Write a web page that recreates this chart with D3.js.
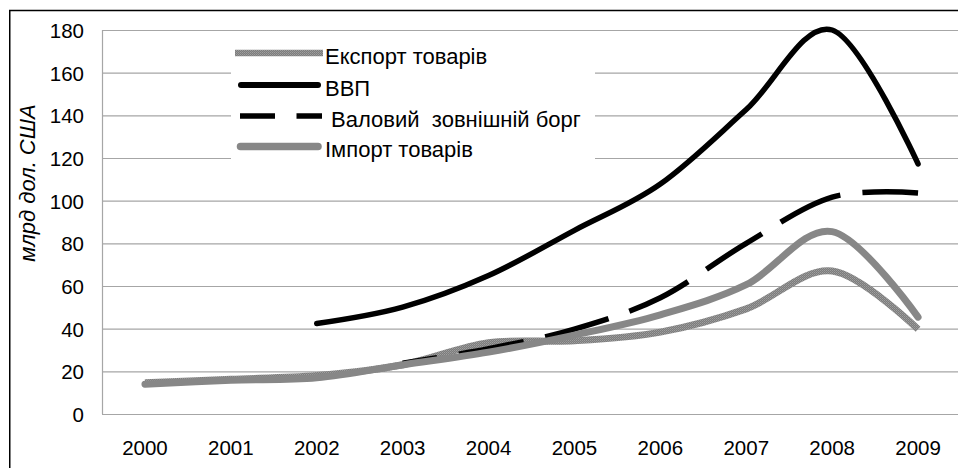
<!DOCTYPE html>
<html>
<head>
<meta charset="utf-8">
<script src="https://cdn.jsdelivr.net/npm/d3@7"></script>
<style>
  html, body { margin: 0; padding: 0; background: #fff; }
  svg { display: block; font-family: "Liberation Sans", Arial, sans-serif; }
  text { white-space: pre; }
</style>
</head>
<body>
<svg id="chart" width="958" height="468"></svg>
<script>
// ---- data ----
const years = ["2000","2001","2002","2003","2004","2005","2006","2007","2008","2009"];
const exportVals = [14.6, 16.3, 18.0, 23.1, 33.4, 34.3, 38.4, 49.3, 67.0, 39.7];
const gdpVals    = [null, null, 42.4, 50.1, 64.9, 86.1, 107.8, 142.7, 180.0, 117.2];
const debtVals   = [null, null, null, 23.8, 30.6, 39.8, 54.5, 80.0, 101.7, 103.6];
const importVals = [14.0, 15.8, 17.0, 23.0, 29.0, 37.0, 46.5, 60.6, 85.5, 45.4];
const yTicks = [0, 20, 40, 60, 80, 100, 120, 140, 160, 180];
const seriesNames = ["Експорт товарів", "ВВП", " Валовий  зовнішній борг", "Імпорт товарів"];
const yTitle = "млрд дол. США";

// ---- layout ----
const svg = d3.select("#chart");
const plot = { left: 102, right: 961, top: 30, bottom: 414 };

const x = d3.scaleBand().domain(years).range([plot.left, plot.right]).padding(0);
const y = d3.scaleLinear().domain([0, 180]).range([plot.bottom, plot.top]);
const cx = yr => x(yr) + x.bandwidth() / 2;

// pattern for export line
const defs = svg.append("defs");
const pat = defs.append("pattern").attr("id", "expPat")
  .attr("patternUnits", "userSpaceOnUse").attr("width", 2).attr("height", 2);
pat.append("rect").attr("width", 2).attr("height", 2).attr("fill", "#7c7c7c");
pat.append("rect").attr("width", 1).attr("height", 1).attr("fill", "#a0a0a0");
pat.append("rect").attr("x", 1).attr("y", 1).attr("width", 1).attr("height", 1).attr("fill", "#929292");

// outer border (only top and left visible)
svg.append("path")
  .attr("d", `M9.75,470 V10.5 H960`)
  .attr("fill", "none").attr("stroke", "#000").attr("stroke-width", 1.5);

// gridlines
const gridAxis = d3.axisLeft(y).tickValues(yTicks).tickSize(-(plot.right - plot.left)).tickFormat("");
svg.append("g").attr("transform", `translate(${plot.left},0)`).call(gridAxis)
  .call(g => g.select(".domain").remove())
  .call(g => g.selectAll("line").attr("stroke", "#a6a6a6").attr("stroke-width", 1.2));

// y axis line
svg.append("line")
  .attr("x1", plot.left + 0.5).attr("x2", plot.left + 0.5)
  .attr("y1", plot.top).attr("y2", plot.bottom)
  .attr("stroke", "#a6a6a6").attr("stroke-width", 1.2);

// y tick labels
const yAxis = d3.axisLeft(y).tickValues(yTicks).tickSize(0).tickPadding(18);
svg.append("g").attr("transform", `translate(${plot.left},0)`).call(yAxis)
  .call(g => g.select(".domain").remove())
  .call(g => g.selectAll("text")
    .attr("font-size", "20.5px").attr("fill", "#000")
    .attr("font-family", "'Liberation Sans', Arial, sans-serif")
    .attr("dy", "0.36em"));

// x tick labels
const xAxis = d3.axisBottom(x).tickSize(0).tickPadding(0);
svg.append("g").attr("transform", `translate(0,${plot.bottom})`).call(xAxis)
  .call(g => g.select(".domain").remove())
  .call(g => g.selectAll("text")
    .attr("font-size", "20.5px").attr("fill", "#000")
    .attr("font-family", "'Liberation Sans', Arial, sans-serif")
    .attr("y", 41).attr("dy", 0));

// y title
svg.append("text")
  .attr("transform", "translate(35,183) rotate(-90)")
  .attr("text-anchor", "middle")
  .attr("font-size", "22px").attr("font-style", "italic")
  .text(yTitle);

// lines
const makeLine = vals => d3.line()
  .defined(d => d.v != null)
  .x(d => cx(d.yr))
  .y(d => y(d.v))
  .curve(d3.curveCatmullRom.alpha(0))(years.map((yr, i) => ({ yr, v: vals[i] })));

// legend background box
svg.append("rect")
  .attr("x", 231).attr("y", 38).attr("width", 364).attr("height", 152)
  .attr("fill", "#fff");

const lines = svg.append("g").attr("fill", "none");
lines.append("path").attr("d", makeLine(exportVals))
  .attr("stroke", "url(#expPat)").attr("stroke-width", 7).attr("stroke-linecap", "butt");
lines.append("path").attr("d", makeLine(gdpVals))
  .attr("stroke", "#000").attr("stroke-width", 5.5).attr("stroke-linecap", "round");
lines.append("path").attr("d", makeLine(debtVals))
  .attr("stroke", "#000").attr("stroke-width", 5.5).attr("stroke-linecap", "butt")
  .attr("stroke-dasharray", "66,22").attr("stroke-dashoffset", 31);
lines.append("path").attr("d", makeLine(importVals))
  .attr("stroke", "#878787").attr("stroke-width", 7).attr("stroke-linecap", "round");

// legend
const legY = [53, 85, 116, 146.5];
const leg = svg.append("g");
// export sample
leg.append("line").attr("x1", 235).attr("x2", 323).attr("y1", legY[0]).attr("y2", legY[0])
  .attr("stroke", "url(#expPat)").attr("stroke-width", 6.5);
// GDP sample
leg.append("line").attr("x1", 241).attr("x2", 318).attr("y1", legY[1]).attr("y2", legY[1])
  .attr("stroke", "#000").attr("stroke-width", 6).attr("stroke-linecap", "round");
// debt sample
leg.append("line").attr("x1", 240).attr("x2", 322).attr("y1", legY[2]).attr("y2", legY[2])
  .attr("stroke", "#000").attr("stroke-width", 5.5).attr("stroke-dasharray", "35,21.5");
// import sample
leg.append("line").attr("x1", 240.5).attr("x2", 318).attr("y1", legY[3]).attr("y2", legY[3])
  .attr("stroke", "#878787").attr("stroke-width", 7.5).attr("stroke-linecap", "round");

leg.selectAll("text.lg").data(seriesNames).enter().append("text")
  .attr("class", "lg")
  .attr("x", 325)
  .attr("y", (d, i) => legY[i] + 10.5)
  .attr("font-size", "22px").attr("fill", "#000")
  .text(d => d);
</script>
</body>
</html>
